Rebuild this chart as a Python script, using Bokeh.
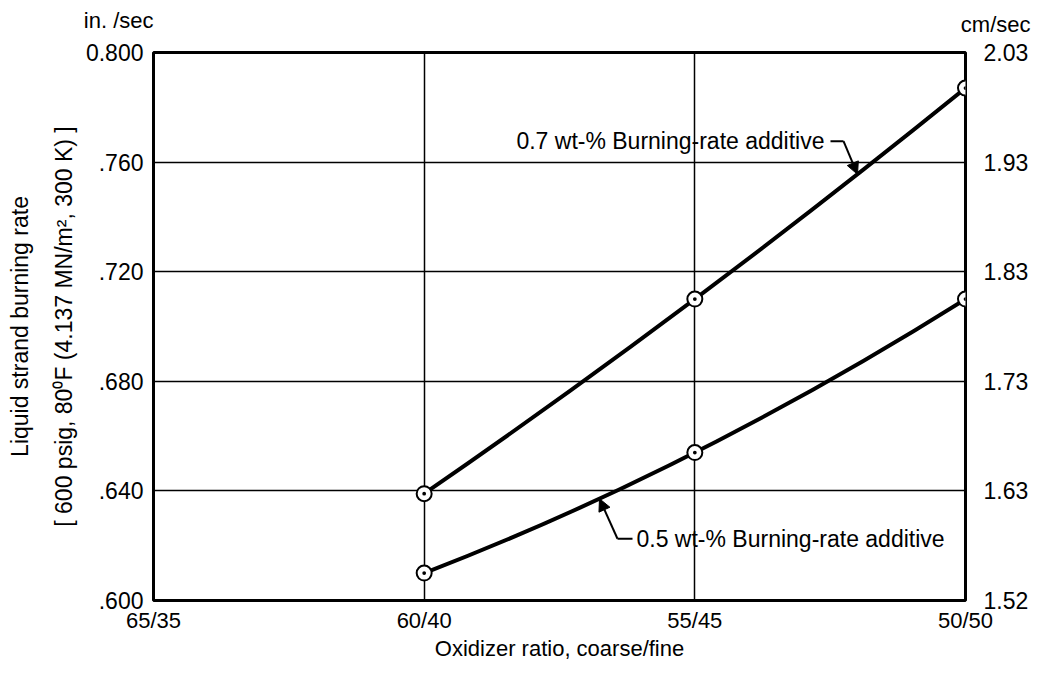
import math
from bokeh.plotting import figure
from bokeh.models import Range1d, FixedTicker, LinearAxis, Label, Arrow, NormalHead
from bokeh.embed import file_html
from bokeh.resources import INLINE

# ---- data ----
ratios = ["65/35", "60/40", "55/45", "50/50"]
ratio_pos = [0, 1, 2, 3]
x_pts = [1, 2, 3]                      # 60/40, 55/45, 50/50
rate_07 = [0.639, 0.710, 0.787]        # 0.7 wt-% additive, in./sec
rate_05 = [0.610, 0.654, 0.710]        # 0.5 wt-% additive, in./sec
in_ticks = [0.600, 0.640, 0.680, 0.720, 0.760, 0.800]
in_labels = [".600", ".640", ".680", ".720", ".760", "0.800"]
cm_labels = ["1.52", "1.63", "1.73", "1.83", "1.93", "2.03"]

FONT = "Liberation Sans"
W, H = 1033, 663
FL, FT, FR, FB = 153, 52, 965, 602     # frame edges on the picture
X0, X1 = 0, 3
Y0, Y1 = 0.6, 0.8

p = figure(width=W, height=H, x_range=Range1d(X0, X1), y_range=Range1d(Y0, Y1),
           output_backend="svg", toolbar_location=None, title=None,
           min_border_left=FL, min_border_top=FT, min_border_right=W - FR, min_border_bottom=H - FB)
p.background_fill_color = "white"
p.border_fill_color = "white"
p.outline_line_color = "black"
p.outline_line_width = 3

# picture pixel -> data coordinates
def px_x(px):
    return X0 + (px - FL) / (FR - FL) * (X1 - X0)

def px_y(py):
    return Y1 - (py - FT) / (FB - FT) * (Y1 - Y0)

def curve_y(xs, ys, x):
    tot = 0.0
    for i in range(3):
        term = ys[i]
        for j in range(3):
            if j != i:
                term *= (x - xs[j]) / (xs[i] - xs[j])
        tot += term
    return tot

# axes
def style_axis(ax, standoff, size="23px"):
    ax.axis_line_color = None
    ax.major_tick_line_color = None
    ax.minor_tick_line_color = None
    ax.major_tick_out = 0
    ax.major_tick_in = 0
    ax.major_label_standoff = standoff
    ax.major_label_text_font = FONT
    ax.major_label_text_font_size = size
    ax.major_label_text_color = "black"
    ax.axis_label_text_font = FONT
    ax.axis_label_text_font_style = "normal"
    ax.axis_label_text_color = "black"

p.xaxis.ticker = FixedTicker(ticks=ratio_pos)
p.xaxis.major_label_overrides = {k: v for k, v in zip(ratio_pos, ratios)}
style_axis(p.xaxis[0], 7, "22px")
p.xaxis.axis_label = "Oxidizer ratio, coarse/fine"
p.xaxis.axis_label_text_font_size = "22px"
p.xaxis.axis_label_standoff = 0

p.yaxis.ticker = FixedTicker(ticks=in_ticks)
p.yaxis.major_label_overrides = {k: v for k, v in zip(in_ticks, in_labels)}
style_axis(p.yaxis[0], 10)
p.yaxis.axis_label = "Liquid strand burning rate\n[ 600 psig, 80\u2070F (4.137 MN/m\u00b2, 300 K) ]"
p.yaxis.axis_label_text_font_size = "23px"
p.yaxis.axis_label_text_line_height = 1.7
p.yaxis.axis_label_standoff = 6

right = LinearAxis(ticker=FixedTicker(ticks=in_ticks),
                   major_label_overrides={k: v for k, v in zip(in_ticks, cm_labels)})
style_axis(right, 18)
p.add_layout(right, "right")

# grid
p.xgrid.ticker = FixedTicker(ticks=ratio_pos[1:3])
p.ygrid.ticker = FixedTicker(ticks=in_ticks)
for g in (p.xgrid[0], p.ygrid[0]):
    g.grid_line_color = "black"
    g.grid_line_width = 1.5
    g.grid_line_alpha = 1.0

# curves: parabola through the three points (quadratic Bezier)
for ys in (rate_07, rate_05):
    cx = 2 * x_pts[1] - 0.5 * (x_pts[0] + x_pts[2])
    cy = 2 * ys[1] - 0.5 * (ys[0] + ys[2])
    p.quadratic(x0=[x_pts[0]], y0=[ys[0]], x1=[x_pts[2]], y1=[ys[2]],
                cx=[cx], cy=[cy], line_color="black", line_width=4)

for ys in (rate_07, rate_05):
    p.scatter(x_pts, ys, marker="circle_dot", size=15, fill_color="white",
              line_color="black", line_width=2)

# leaders
def leader(pts, tip_px, ys):
    for (ax, ay), (bx, by) in zip(pts[:-1], pts[1:]):
        p.add_layout(Arrow(end=None, x_start=px_x(ax), y_start=px_y(ay),
                           x_end=px_x(bx), y_end=px_y(by), line_width=2, line_color="black"))
    sx, sy = pts[-1]
    tx = px_x(tip_px)
    p.add_layout(Arrow(end=NormalHead(size=12, fill_color="black", line_color="black", line_width=1),
                       x_start=px_x(sx), y_start=px_y(sy), x_end=tx, y_end=curve_y(x_pts, ys, tx),
                       line_width=2, line_color="black"))

leader([(830, 141), (843, 141)], 857, rate_07)
leader([(632, 540), (617, 540)], 599, rate_05)

def lab(x, y, text, align="left", place=None, size="23px"):
    l = Label(x=x, y=y, text=text, text_align=align, text_baseline="middle",
              text_font=FONT, text_font_size=size, text_color="black")
    if place:
        p.add_layout(l, place)
    else:
        p.add_layout(l)

lab(px_x(824), px_y(141), "0.7 wt-% Burning-rate additive", "right")
lab(px_x(636), px_y(540), "0.5 wt-% Burning-rate additive", "left")

# unit texts above the frame (side panel, so they are not clipped to the frame)
lab(px_x(153), px_y(20), "in. /sec", "right", "above", "22px")
lab(px_x(1030), px_y(24), "cm/sec", "right", "above", "22px")

open("out.html", "w").write(file_html(p, INLINE))
